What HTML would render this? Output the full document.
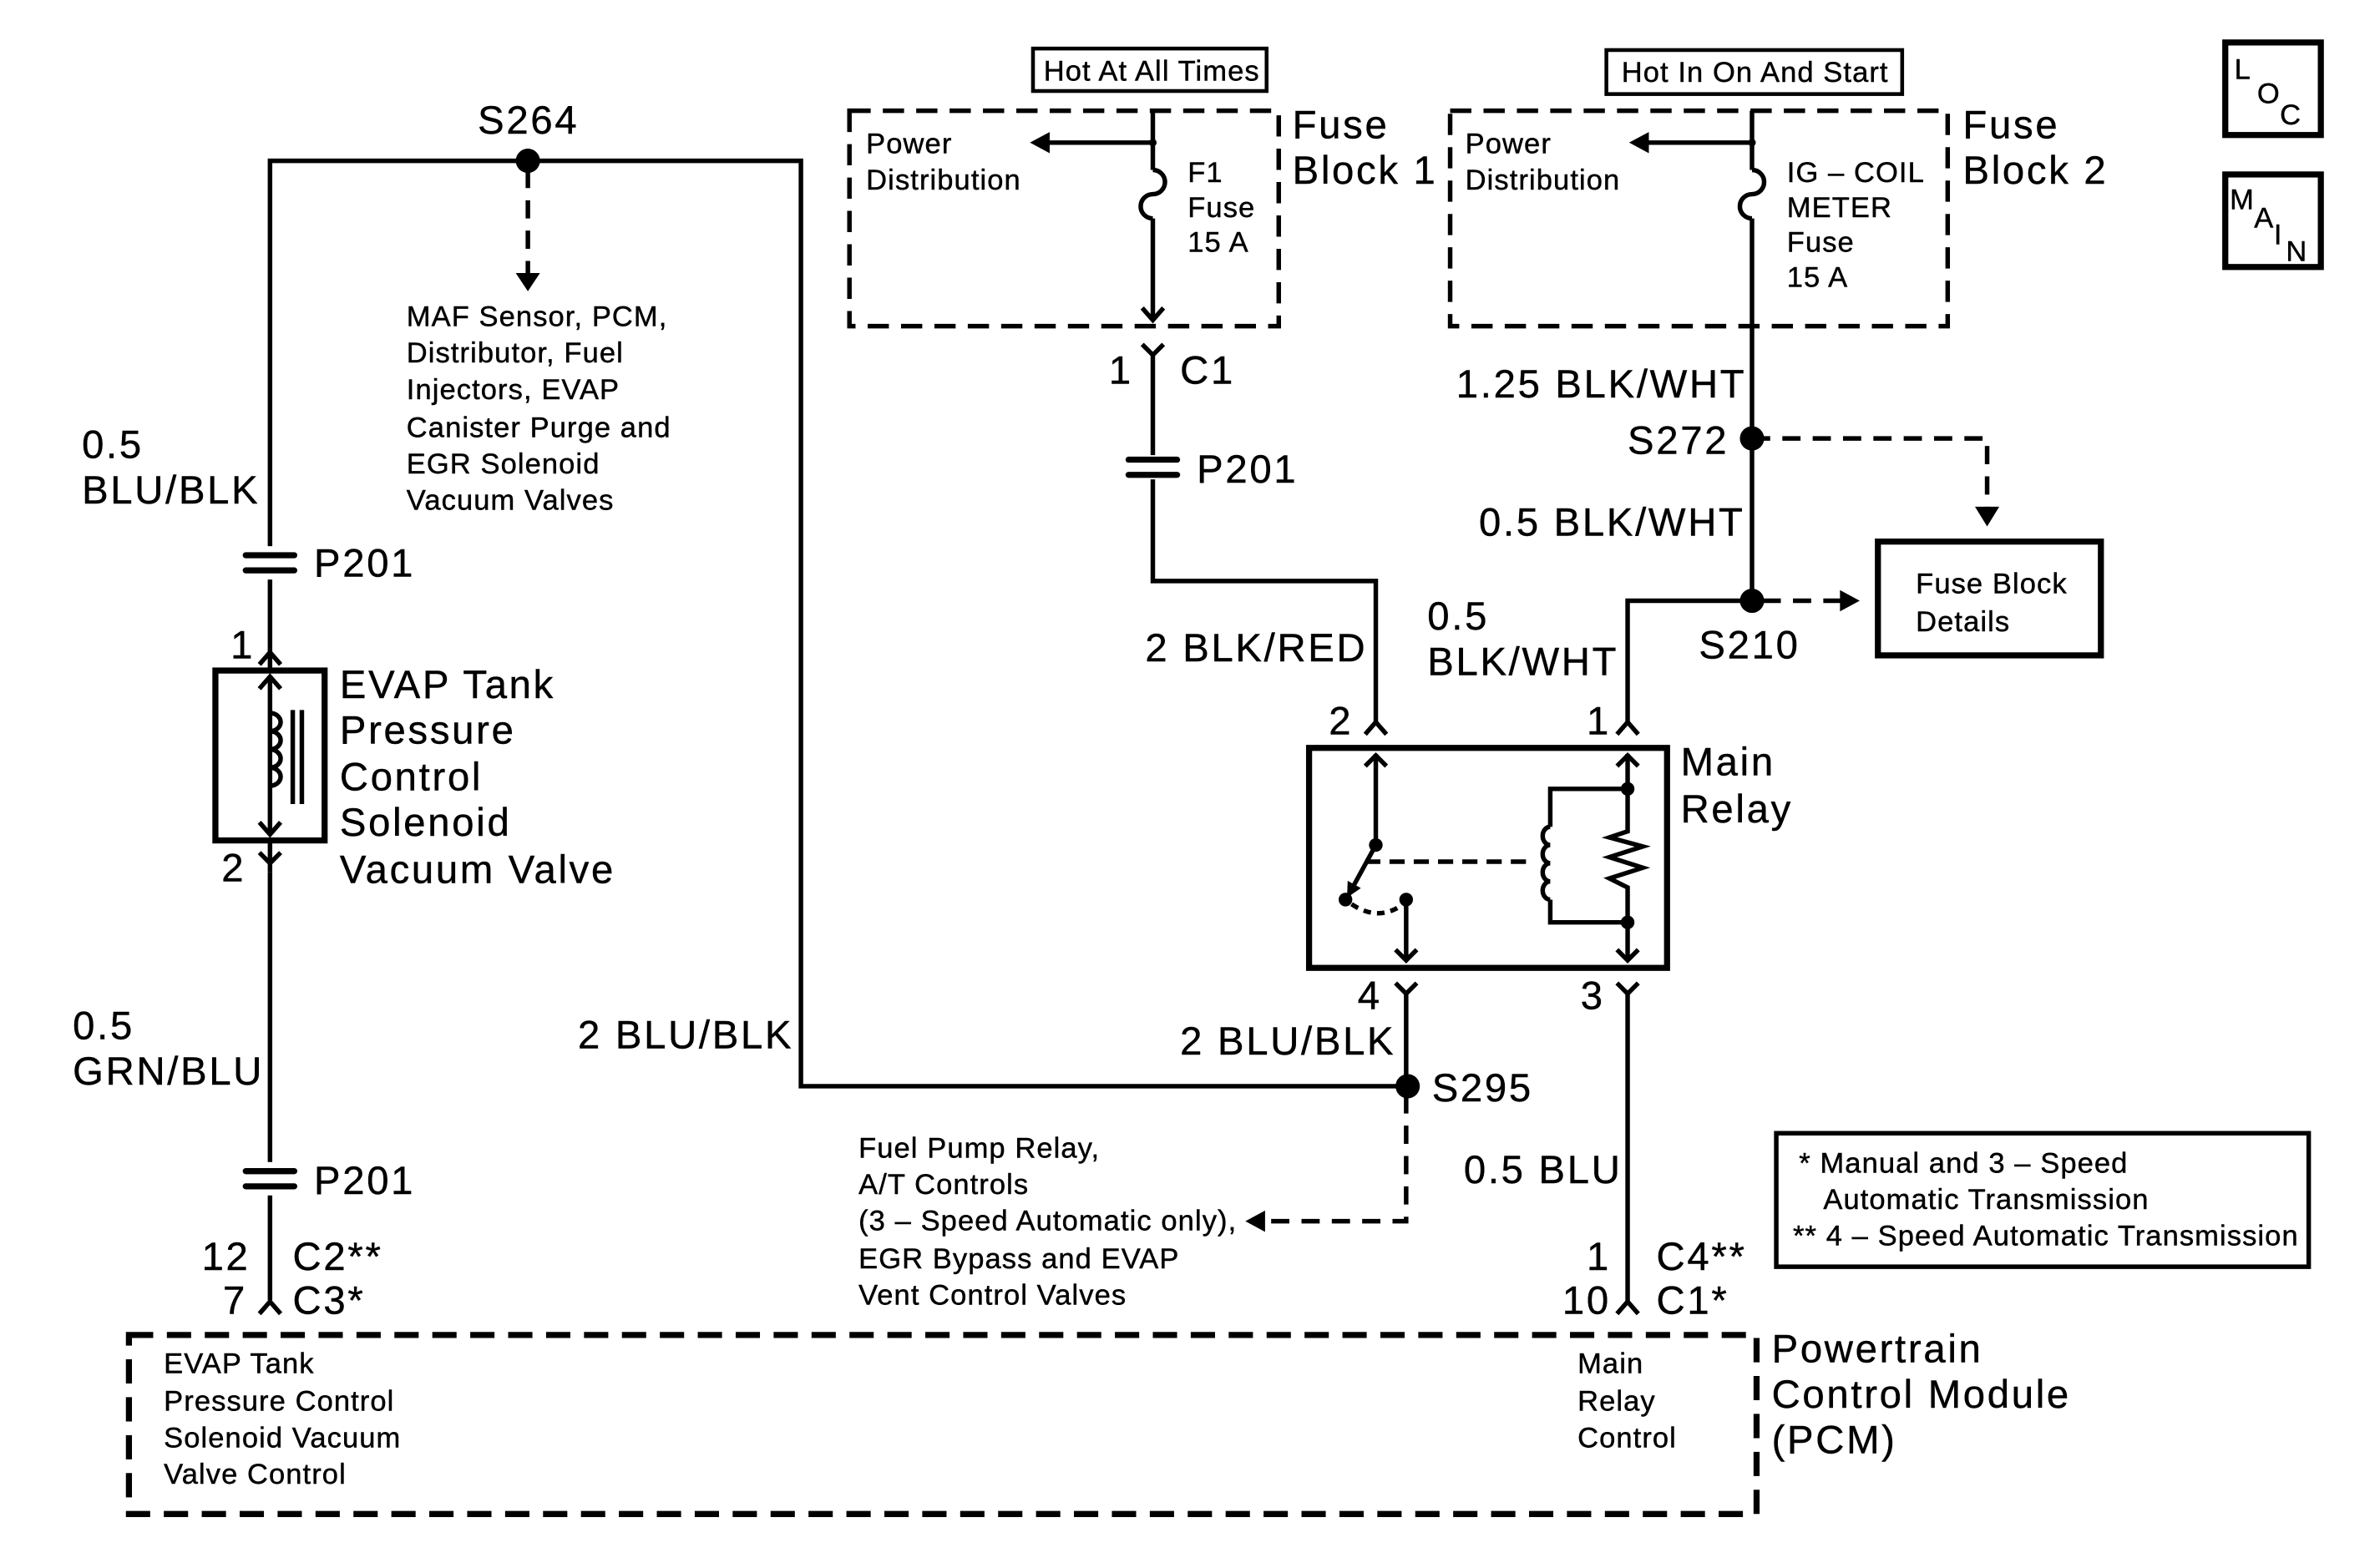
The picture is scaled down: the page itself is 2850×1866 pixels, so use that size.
<!DOCTYPE html>
<html><head><meta charset="utf-8"><style>
html,body{margin:0;padding:0;background:#fff;}
svg{display:block;}
text{font-family:"Liberation Sans",Arial,sans-serif;fill:#000;stroke:#000;stroke-width:0.25;}
.b{font-size:26px;letter-spacing:1.5px;}
.s{font-size:19px;letter-spacing:0.6px;}
</style></head><body>
<svg width="2850" height="1866" viewBox="0 0 1569 1027" preserveAspectRatio="none" xmlns="http://www.w3.org/2000/svg">
<defs>
<marker id="ah" markerWidth="10" markerHeight="10" refX="8" refY="5" orient="auto" markerUnits="userSpaceOnUse"><path d="M0,0 L10,5 L0,10 z" fill="#000"/></marker>
</defs>
<g stroke="#000" stroke-width="3" fill="none">
<polyline points="178,360 178,106 528,106 528,716 928,716"/>
<line x1="178" y1="382" x2="178" y2="430"/>
<line x1="178" y1="575" x2="178" y2="766"/>
<line x1="178" y1="788" x2="178" y2="857"/>
<g stroke-width="4" stroke-linecap="round">
<line x1="162" y1="366" x2="194" y2="366"/><line x1="162" y1="376" x2="194" y2="376"/>
<line x1="162" y1="772" x2="194" y2="772"/><line x1="162" y1="782" x2="194" y2="782"/>
<line x1="744" y1="303" x2="776" y2="303"/><line x1="744" y1="313" x2="776" y2="313"/>
</g>
<polyline points="171,438 178,430 185,438"/><line x1="178" y1="430" x2="178" y2="442"/>
<polyline points="171,562 178,569 185,562"/><line x1="178" y1="554" x2="178" y2="575"/>
<polyline points="171,866 178,858 185,866"/>
<polyline points="900,484 907,476 914,484"/>
<polyline points="1066,484 1073,476 1080,484"/>
<polyline points="920,648 927,655 934,648"/>
<polyline points="1066,648 1073,655 1080,648"/>
<polyline points="1066,866 1073,858 1080,866"/>
<polyline points="753,227 760,234 767,227"/>
<rect x="142" y="442" width="72" height="112" stroke-width="4"/>
<line x1="178" y1="446" x2="178" y2="550"/>
<polyline points="171,454 178,446 185,454"/><polyline points="171,542 178,550 185,542"/>
<path d="M178,470 a7,6 0 0 1 0,12 a7,6 0 0 1 0,12 a7,6 0 0 1 0,12 a7,6 0 0 1 0,12"/>
<line x1="193" y1="468" x2="193" y2="530"/><line x1="199" y1="468" x2="199" y2="530"/>
<line x1="348" y1="112" x2="348" y2="182" stroke-dasharray="12,8"/>
<rect x="560" y="73" width="283" height="142" stroke-dasharray="14,8"/>
<rect x="681" y="32" width="154" height="28" stroke-width="2.5"/>
<line x1="760" y1="73" x2="760" y2="112"/>
<path d="M760,112 a8,8 0 0 1 0,16 a8,8 0 0 0 0,16"/>
<line x1="760" y1="144" x2="760" y2="210"/>
<polyline points="753,203 760,211 767,203"/>
<line x1="760" y1="94" x2="690" y2="94"/>
<line x1="760" y1="234" x2="760" y2="300"/>
<polyline points="760,316 760,383 907,383 907,476"/>
<rect x="956" y="73" width="328" height="142" stroke-dasharray="14,8"/>
<rect x="1059" y="33" width="195" height="29" stroke-width="2.5"/>
<line x1="1155" y1="73" x2="1155" y2="112"/>
<path d="M1155,112 a8,8 0 0 1 0,16 a8,8 0 0 0 0,16"/>
<line x1="1155" y1="144" x2="1155" y2="396"/>
<line x1="1155" y1="94" x2="1085" y2="94"/>
<polyline points="1155,396 1073,396 1073,476"/>
<polyline points="1155,289 1310,289 1310,336" stroke-dasharray="12,8"/>
<line x1="1162" y1="396" x2="1215" y2="396" stroke-dasharray="12,8"/>
<rect x="1238" y="357" width="147" height="75" stroke-width="4"/>
<rect x="863" y="493" width="236" height="145" stroke-width="4"/>
<line x1="907" y1="497" x2="907" y2="557"/><polyline points="900,505 907,498 914,505"/>
<line x1="907" y1="557" x2="889" y2="590" marker-end="url(#ah)"/>
<path d="M891,596 q18,12 34,0" stroke-dasharray="5,4"/>
<line x1="927" y1="593" x2="927" y2="633"/><polyline points="920,626 927,633 934,626"/>
<line x1="900" y1="568" x2="1012" y2="568" stroke-dasharray="10,6"/>
<polyline points="1073,497 1073,548 1061,552 1083,558 1061,565 1083,572 1061,579 1073,585 1073,633"/>
<polyline points="1066,505 1073,498 1080,505"/><polyline points="1066,626 1073,633 1080,626"/>
<polyline points="1073,520 1022,520 1022,545"/>
<path d="M1022,545 a5,6 0 0 0 0,12 a5,6 0 0 0 0,12 a5,6 0 0 0 0,12 a5,6 0 0 0 0,12"/>
<polyline points="1022,593 1022,608 1073,608"/>
<line x1="927" y1="655" x2="927" y2="716"/>
<line x1="1073" y1="655" x2="1073" y2="858"/>
<polyline points="927,722 927,805 832,805" stroke-dasharray="12,8"/>
<rect x="85" y="880" width="1073" height="118" stroke-dasharray="16,9" stroke-width="4"/>
<rect x="1171" y="747" width="351" height="88" stroke-width="3"/>
<rect x="1467" y="28" width="63" height="61" stroke-width="4"/>
<rect x="1467" y="115" width="63" height="61" stroke-width="4"/>
</g>
<g fill="#000">
<circle cx="348" cy="106" r="8"/><circle cx="1155" cy="289" r="8"/><circle cx="1155" cy="396" r="8"/><circle cx="928" cy="716" r="8"/>
<circle cx="907" cy="557" r="4.5"/><circle cx="887" cy="593" r="4.5"/><circle cx="927" cy="593" r="4.5"/>
<circle cx="1073" cy="520" r="4.5"/><circle cx="1073" cy="608" r="4.5"/>
<circle cx="760" cy="94" r="2.5"/><circle cx="1155" cy="94" r="2.5"/>
<path d="M340,180 L348,192 L356,180 z"/>
<path d="M1302,334 L1310,347 L1318,334 z"/>
<path d="M1213,389 L1226,396 L1213,403 z"/>
<path d="M834,798 L821,805 L834,812 z"/>
<path d="M692,87 L679,94 L692,101 z"/>
<path d="M1087,87 L1074,94 L1087,101 z"/>
</g>
<text class="b" x="315" y="88">S264</text>
<text class="s" x="268" y="215">MAF Sensor, PCM,</text>
<text class="s" x="268" y="239">Distributor, Fuel</text>
<text class="s" x="268" y="263">Injectors, EVAP</text>
<text class="s" x="268" y="288">Canister Purge and</text>
<text class="s" x="268" y="312">EGR Solenoid</text>
<text class="s" x="268" y="336">Vacuum Valves</text>
<text class="b" x="54" y="302">0.5</text>
<text class="b" x="54" y="332">BLU/BLK</text>
<text class="b" x="207" y="380">P201</text>
<text class="b" x="152" y="434">1</text>
<text class="b" x="224" y="460">EVAP Tank</text>
<text class="b" x="224" y="490">Pressure</text>
<text class="b" x="224" y="521">Control</text>
<text class="b" x="224" y="551">Solenoid</text>
<text class="b" x="224" y="582">Vacuum Valve</text>
<text class="b" x="146" y="581">2</text>
<text class="b" x="48" y="685">0.5</text>
<text class="b" x="48" y="715">GRN/BLU</text>
<text class="b" x="207" y="787">P201</text>
<text class="b" x="133" y="837">12</text>
<text class="b" x="193" y="837">C2**</text>
<text class="b" x="147" y="866">7</text>
<text class="b" x="193" y="866">C3*</text>
<text class="s" x="108" y="905">EVAP Tank</text>
<text class="s" x="108" y="930">Pressure Control</text>
<text class="s" x="108" y="954">Solenoid Vacuum</text>
<text class="s" x="108" y="978">Valve Control</text>
<text class="s" x="1040" y="905">Main</text>
<text class="s" x="1040" y="930">Relay</text>
<text class="s" x="1040" y="954">Control</text>
<text class="b" x="1168" y="898">Powertrain</text>
<text class="b" x="1168" y="928">Control Module</text>
<text class="b" x="1168" y="958">(PCM)</text>
<text class="s" x="688" y="53">Hot At All Times</text>
<text class="s" x="571" y="101">Power</text>
<text class="s" x="571" y="125">Distribution</text>
<text class="s" x="783" y="120">F1</text>
<text class="s" x="783" y="143">Fuse</text>
<text class="s" x="783" y="166">15 A</text>
<text class="b" x="852" y="91">Fuse</text>
<text class="b" x="852" y="121">Block 1</text>
<text class="b" x="731" y="253">1</text>
<text class="b" x="778" y="253">C1</text>
<text class="b" x="789" y="318">P201</text>
<text class="b" x="755" y="436">2 BLK/RED</text>
<text class="b" x="876" y="484">2</text>
<text class="s" x="1069" y="54">Hot In On And Start</text>
<text class="s" x="966" y="101">Power</text>
<text class="s" x="966" y="125">Distribution</text>
<text class="s" x="1178" y="120">IG – COIL</text>
<text class="s" x="1178" y="143">METER</text>
<text class="s" x="1178" y="166">Fuse</text>
<text class="s" x="1178" y="189">15 A</text>
<text class="b" x="1294" y="91">Fuse</text>
<text class="b" x="1294" y="121">Block 2</text>
<text class="b" x="960" y="262">1.25 BLK/WHT</text>
<text class="b" x="1073" y="299">S272</text>
<text class="b" x="975" y="353">0.5 BLK/WHT</text>
<text class="b" x="941" y="415">0.5</text>
<text class="b" x="941" y="445">BLK/WHT</text>
<text class="b" x="1120" y="434">S210</text>
<text class="s" x="1263" y="391">Fuse Block</text>
<text class="s" x="1263" y="416">Details</text>
<text class="b" x="1046" y="484">1</text>
<text class="b" x="1108" y="511">Main</text>
<text class="b" x="1108" y="542">Relay</text>
<text class="b" x="895" y="665">4</text>
<text class="b" x="1042" y="665">3</text>
<text class="b" x="778" y="695">2 BLU/BLK</text>
<text class="b" x="381" y="691">2 BLU/BLK</text>
<text class="b" x="944" y="726">S295</text>
<text class="s" x="566" y="763">Fuel Pump Relay,</text>
<text class="s" x="566" y="787">A/T Controls</text>
<text class="s" x="566" y="811">(3 – Speed Automatic only),</text>
<text class="s" x="566" y="836">EGR Bypass and EVAP</text>
<text class="s" x="566" y="860">Vent Control Valves</text>
<text class="b" x="965" y="780">0.5 BLU</text>
<text class="b" x="1046" y="837">1</text>
<text class="b" x="1092" y="837">C4**</text>
<text class="b" x="1030" y="866">10</text>
<text class="b" x="1092" y="866">C1*</text>
<text class="s" x="1186" y="773">* Manual and 3 – Speed</text>
<text class="s" x="1202" y="797">Automatic Transmission</text>
<text class="s" x="1182" y="821">** 4 – Speed Automatic Transmission</text>
<text class="s" x="1473" y="52">L</text>
<text class="s" x="1488" y="68">O</text>
<text class="s" x="1503" y="82">C</text>
<text class="s" x="1470" y="138">M</text>
<text class="s" x="1486" y="150">A</text>
<text class="s" x="1499" y="161">I</text>
<text class="s" x="1507" y="172">N</text>
</svg>
</body></html>
